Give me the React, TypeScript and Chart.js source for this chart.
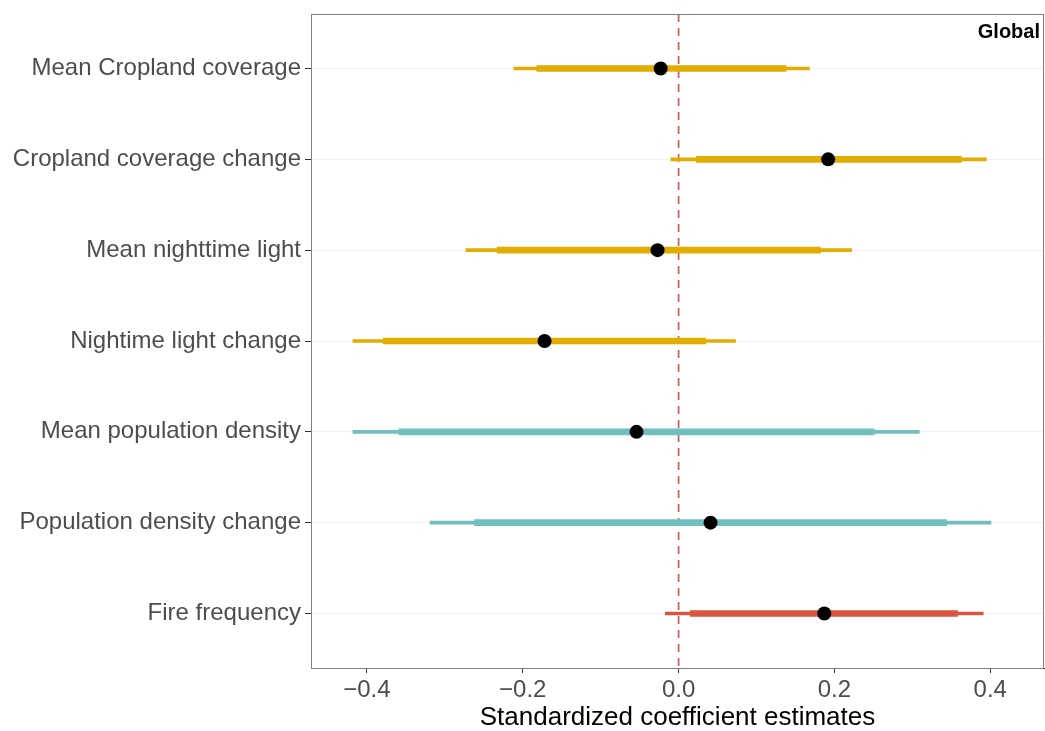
import React, { useEffect, useRef } from "react";
import { Chart, registerables } from "chart.js";

Chart.register(...registerables);

const categories = [
  "Mean Cropland coverage",
  "Cropland coverage change",
  "Mean nighttime light",
  "Nightime light change",
  "Mean population density",
  "Population density change",
  "Fire frequency",
];
const estimates = [-0.023, 0.192, -0.027, -0.172, -0.054, 0.041, 0.187];
const outerLow = [-0.2115, -0.01, -0.273, -0.418, -0.418, -0.319, -0.017];
const outerHigh = [0.168, 0.395, 0.222, 0.073, 0.309, 0.401, 0.391];
const innerLow = [-0.182, 0.023, -0.233, -0.379, -0.359, -0.262, 0.015];
const innerHigh = [0.138, 0.363, 0.182, 0.035, 0.251, 0.344, 0.358];
const groups = ["land", "land", "land", "land", "pop", "pop", "fire"];
const xTicks = [-0.4, -0.2, 0.0, 0.2, 0.4];
const panelLabel = "Global";
const xTitle = "Standardized coefficient estimates";

const groupColors: Record<string, string> = {
  land: "#E2AC00",
  pop: "#70BFBF",
  fire: "#DB5440",
};

const FONT = "'Liberation Sans', Arial, sans-serif";

const panelPlugin = {
  id: "panel",
  afterDatasetsDraw(chart: any) {
    const { ctx, chartArea } = chart;
    ctx.save();
    ctx.strokeStyle = "#7F7F7F";
    ctx.lineWidth = 1;
    ctx.strokeRect(chartArea.left + 0.5, chartArea.top + 0.5, chartArea.right - chartArea.left - 1, chartArea.bottom - chartArea.top);
    ctx.fillStyle = "#000";
    ctx.font = `bold 20px ${FONT}`;
    ctx.textAlign = "right";
    ctx.textBaseline = "middle";
    ctx.fillText(panelLabel, chartArea.right - 4, chartArea.top + 18);
    ctx.restore();
  },
};

const zeroPadding = (scale: any) => {
  scale.paddingLeft = 0;
  scale.paddingRight = 0;
  scale.paddingTop = 0;
  scale.paddingBottom = 0;
};

export default function App() {
  const ref = useRef<HTMLCanvasElement>(null);
  useEffect(() => {
    if (!ref.current) return;
    const rows = categories.map((_, i) => i + 1);
    const colors = groups.map((g) => groupColors[g]);
    const chart = new Chart(ref.current, {
      type: "bar",
      data: {
        datasets: [
          {
            type: "line",
            data: [
              { x: 0, y: 0.4 },
              { x: 0, y: 7.6 },
            ],
            borderColor: "#C75B57",
            borderWidth: 1.7,
            borderDash: [8, 6],
            pointRadius: 0,
            order: 3,
          } as any,
          {
            type: "bar",
            indexAxis: "y",
            grouped: false,
            data: rows.map((r, i) => ({ y: r, x: [outerLow[i], outerHigh[i]] })),
            backgroundColor: colors,
            barThickness: 3,
            order: 2,
          } as any,
          {
            type: "bar",
            indexAxis: "y",
            grouped: false,
            data: rows.map((r, i) => ({ y: r, x: [innerLow[i], innerHigh[i]] })),
            backgroundColor: colors,
            barThickness: 6,
            order: 1,
          } as any,
          {
            type: "line",
            data: rows.map((r, i) => ({ x: estimates[i], y: r })),
            showLine: false,
            pointRadius: 7,
            pointHoverRadius: 7,
            pointBackgroundColor: "#000",
            pointBorderColor: "#000",
            pointBorderWidth: 0,
            order: 0,
          } as any,
        ],
      },
      options: {
        animation: false,
        responsive: false,
        maintainAspectRatio: false,
        layout: { autoPadding: false, padding: { top: 14, right: 1, left: 0, bottom: 0 } },
        plugins: {
          legend: { display: false },
          tooltip: { enabled: false },
          title: { display: false },
        },
        scales: {
          x: {
            type: "linear",
            offset: false,
            min: -0.4718,
            max: 0.469,
            afterBuildTicks: (scale: any) => {
              scale.ticks = xTicks.map((v) => ({ value: v }));
            },
            afterFit: (scale: any) => {
              scale.height = 63;
              zeroPadding(scale);
            },
            ticks: {
              font: { family: FONT, size: 24 },
              color: "#4D4D4D",
              padding: 3,
              maxRotation: 0,
              callback: (v: any) => {
                const n = Number(v);
                const s = Math.abs(n).toFixed(1);
                return n < -1e-9 ? "\u2212" + s : s;
              },
            },
            grid: {
              offset: false,
              drawOnChartArea: false,
              drawTicks: true,
              tickLength: 5,
              tickColor: "#333333",
            },
            border: { color: "#333333", width: 1 },
            title: {
              display: true,
              text: xTitle,
              font: { family: FONT, size: 26, lineHeight: 1.0 },
              color: "#000",
              padding: { top: 0, bottom: 0 },
            },
          },
          y: {
            type: "linear",
            offset: false,
            reverse: true,
            min: 0.4,
            max: 7.6,
            afterBuildTicks: (scale: any) => {
              scale.ticks = categories.map((_, i) => ({ value: i + 1 }));
            },
            afterFit: (scale: any) => {
              scale.width = 311;
              zeroPadding(scale);
            },
            ticks: {
              font: { family: FONT, size: 24 },
              color: "#4D4D4D",
              padding: 4,
              callback: (_v: any, idx: number) => categories[idx],
            },
            grid: {
              offset: false,
              color: "rgba(235,235,235,0.7)",
              lineWidth: 1,
              drawTicks: true,
              tickLength: 6,
              tickColor: "#333333",
            },
            border: { color: "#7F7F7F", width: 1 },
          },
        },
      },
      plugins: [panelPlugin],
    });
    return () => chart.destroy();
  }, []);
  return (
    <div style={{ position: "absolute", left: 0, top: 0, width: 1045, height: 731, background: "#fff" }}>
      <canvas ref={ref} width={1045} height={731} style={{ width: 1045, height: 731 }} />
    </div>
  );
}
